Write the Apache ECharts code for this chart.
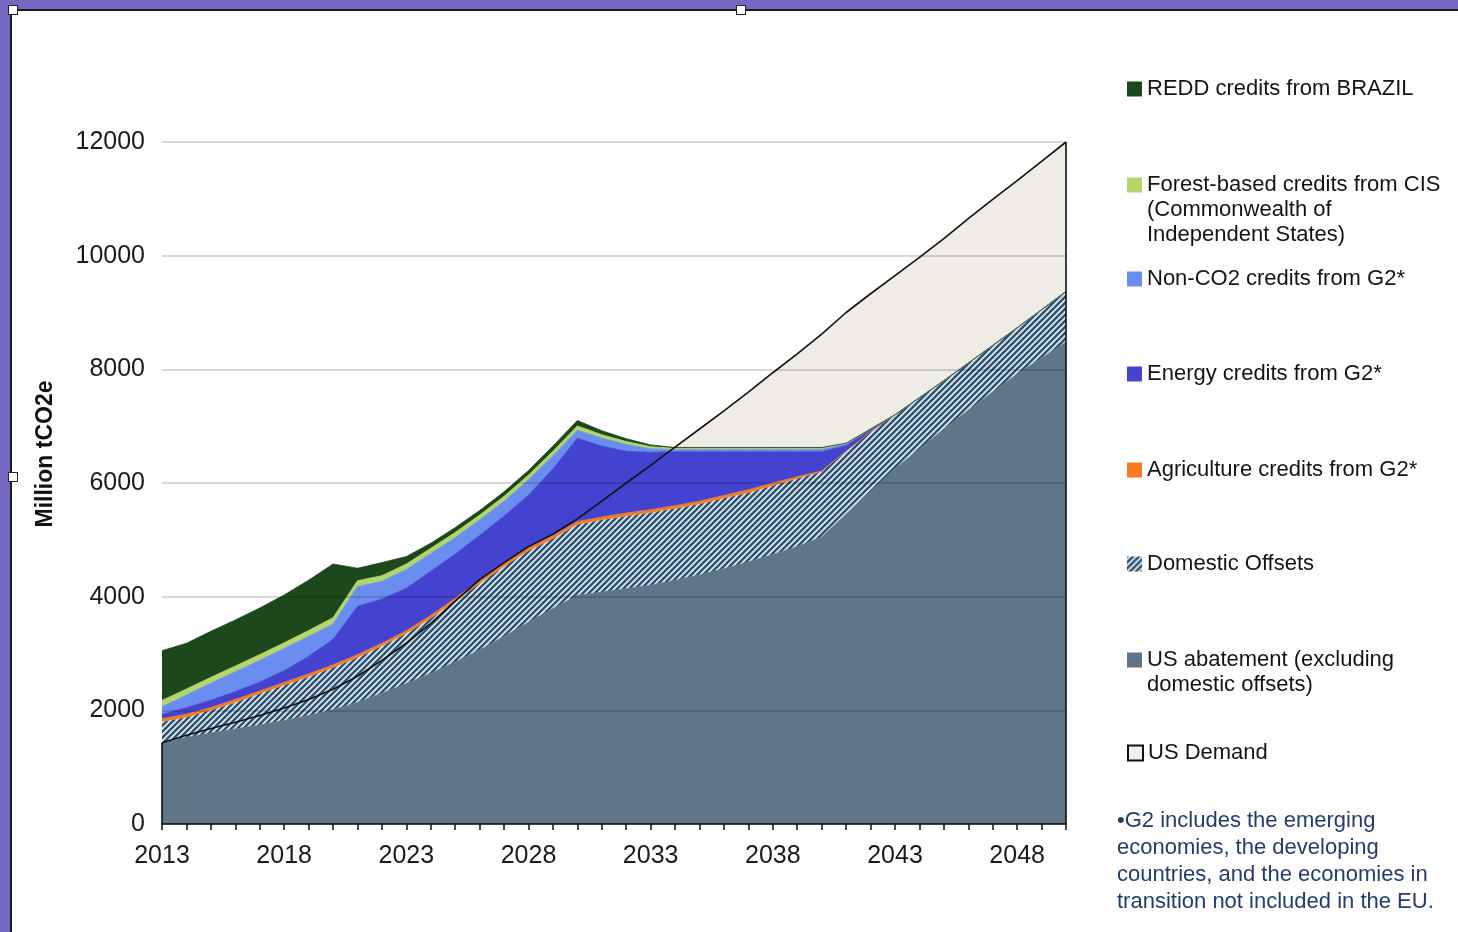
<!DOCTYPE html>
<html>
<head>
<meta charset="utf-8">
<script src="https://cdn.jsdelivr.net/npm/echarts/dist/echarts.min.js"></script>
<style>
html,body{margin:0;padding:0;width:1458px;height:932px;overflow:hidden;background:#7469c2;}
#panel{position:absolute;left:10px;top:9px;width:1448px;height:923px;background:#fff;border-top:2px solid #1a1a1a;border-left:2px solid #1a1a1a;box-sizing:border-box;}
.h{position:absolute;width:10px;height:10px;background:#fff;border:1px solid #222;box-sizing:border-box;}
#chart{position:absolute;left:0;top:0;width:1458px;height:932px;}
</style>
</head>
<body>
<div id="panel"></div>
<div class="h" style="left:8px;top:5px"></div>
<div class="h" style="left:736px;top:5px"></div>
<div class="h" style="left:8px;top:472px"></div>
<div id="chart"></div>
<script>
// ---- data (Million tCO2e) ----
const years = ['2013','2014','2015','2016','2017','2018','2019','2020','2021','2022','2023','2024','2025','2026','2027','2028','2029','2030','2031','2032','2033','2034','2035','2036','2037','2038','2039','2040','2041','2042','2043','2044','2045','2046','2047','2048','2049','2050'];
const usAbatement = [1430,1520,1600,1670,1740,1820,1910,2010, 2140,2300,2470,2650,2850,3060,3300,3550,3790,4020, 4080,4140,4200,4290,4380,4490,4610,4740,4880,5050, 5450,5850,6250,6600,6950,7280,7600,7920,8200,8480];
const domesticOffsets = [370,360,400,470,550,620,680,740, 790,830,880,970,1070,1170,1230,1260,1230,1250, 1270,1280,1280,1260,1250,1240,1220,1210,1200,1150, 1110,1050,950,900,850,830,820,810,850,890];
const agriculture = [50,50,50,50,50,50,50,50, 50,50,50,50,50,50,50,50,50,50, 50,50,50,50,50,50,50,50,30,10, 0,0,0,0,0,0,0,0,0,0];
const energy = [80,120,130,140,160,210,310,450, 850,780,750,780,780,800,840,930,1180,1470, 1250,1090,1010,950,870,770,670,550,440,340, 100,30,0,0,0,0,0,0,0,0];
const nonCO2 = [135,220,300,350,380,390,350,270, 350,310,330,310,290,270,260,270,230,140, 140,120,60,40,40,40,40,40,40,40, 30,20,0,0,0,0,0,0,0,0];
const forest = [110,105,100,100,100,100,105,110, 100,100,95,90,90,85,85,80,80,75, 60,50,40,20,20,20,20,20,20,20, 10,0,0,0,0,0,0,0,0,0];
const redd = [875,805,810,810,820,840,885,945, 220,230,130,90,85,80,80,80,90,95, 70,50,30,15,15,15,15,15,15,15, 0,0,0,0,0,0,0,0,0,0];
const usDemand = [1430,1560,1680,1790,1910,2040,2190,2370, 2600,2880,3180,3530,3920,4300,4600,4880,5100,5370, 5680,6000,6310,6630,6950,7270,7600,7940,8270,8620, 9000,9330,9650,9970,10300,10650,10990,11320,11660,12000];
const yTicks = {min:0, max:12000, step:2000};
const footnote = ['\u2022G2 includes the emerging','economies, the developing','countries, and the economies in','transition not included in the EU.'];

const N_ABATE = 'US abatement (excluding domestic offsets)';
const N_DOM = 'Domestic Offsets';
const N_AG = 'Agriculture credits from G2*';
const N_EN = 'Energy credits from G2*';
const N_NON = 'Non-CO2 credits from G2*';
const N_FOR = 'Forest-based credits from CIS (Commonwealth of Independent States)';
const N_REDD = 'REDD credits from BRAZIL';
const N_DEM = 'US Demand';
const legendLines = {};
legendLines[N_ABATE] = ['US abatement (excluding','domestic offsets)'];
legendLines[N_FOR] = ['Forest-based credits from CIS','(Commonwealth of','Independent States)'];

// ---- hatch pattern ----
function hatchCanvas(){
  const s = 6;
  const c = document.createElement('canvas'); c.width = s; c.height = s;
  const g = c.getContext('2d');
  g.fillStyle = '#e2e7e8'; g.fillRect(0,0,s,s);
  g.strokeStyle = '#2a5375'; g.lineWidth = 2.4;
  g.beginPath();
  g.moveTo(-1, s+1); g.lineTo(s+1, -1);
  g.moveTo(-s/2-1, s/2+1); g.lineTo(s/2+1, -s/2-1);
  g.moveTo(s/2-1, 1.5*s+1); g.lineTo(1.5*s+1, s/2-1);
  g.stroke();
  return c;
}
const hatch = {image: hatchCanvas(), repeat: 'repeat'};

const colors = {};
colors[N_ABATE] = '#607588';
colors[N_DOM] = hatch;
colors[N_AG] = '#f47a24';
colors[N_EN] = '#4343d0';
colors[N_NON] = '#6a8ef0';
colors[N_FOR] = '#b3d66a';
colors[N_REDD] = '#1c481c';

const stackDefs = [[N_ABATE, usAbatement],[N_DOM, domesticOffsets],[N_AG, agriculture],[N_EN, energy],[N_NON, nonCO2],[N_FOR, forest],[N_REDD, redd]];

const series = [];
series.push({
  name: N_DEM, type: 'line', data: usDemand, symbol: 'none', z: 1, silent: true,
  lineStyle: {width: 0}, itemStyle: {color: '#efebe5'}, areaStyle: {color: '#efebe5', opacity: 1}
});
stackDefs.forEach(function(d){
  const col = colors[d[0]];
  series.push({
    name: d[0], type: 'line', stack: 'supply', data: d[1], symbol: 'none', z: 2, silent: true,
    itemStyle: {color: col},
    lineStyle: {width: d[0] === N_DOM ? 0 : 0.8, color: col},
    areaStyle: {color: col, opacity: 1}
  });
});
const last = years.length - 1;
series.push({
  name: N_DEM, type: 'line', data: usDemand, symbol: 'none', z: 4, silent: true,
  lineStyle: {width: 1.6, color: '#111'}, itemStyle: {color: '#111'},
  markLine: {
    silent: true, symbol: ['none','none'], label: {show: false}, animation: false,
    lineStyle: {type: 'solid', color: '#111', width: 1.6},
    data: [
      [{coord: [years[0], 0]}, {coord: [years[0], usDemand[0]]}],
      [{coord: [years[last], 0]}, {coord: [years[last], usDemand[last]]}]
    ]
  }
});

const FONT = '"Liberation Sans", Arial, sans-serif';
// multi-line legend entries: blank lines are prepended so the icon sits on the first line
function legend(name, centerY, extra){
  const lh = 25;
  const lines = legendLines[name] || [name];
  const pad = lines.length - 1;
  const total = lines.length + pad;
  const text = new Array(pad + 1).join('\n') + lines.join('\n');
  return {
    show: true, orient: 'vertical', left: 1127, top: centerY - total * lh / 2, padding: 0,
    itemWidth: 15, itemHeight: 15, itemGap: 0, icon: 'rect', selectedMode: false,
    data: [Object.assign({name: name}, extra || {})],
    formatter: function(){ return text; },
    textStyle: {fontSize: 22, color: '#141414', fontFamily: FONT, lineHeight: lh}
  };
}

const chart = echarts.init(document.getElementById('chart'), null, {renderer: 'canvas'});
chart.setOption({
  animation: false,
  backgroundColor: 'transparent',
  grid: {left: 162, top: 142, width: 904, height: 682, containLabel: false},
  xAxis: {
    type: 'category', data: years, boundaryGap: false, z: 5,
    axisLine: {show: true, lineStyle: {color: '#111', width: 1.5}},
    axisTick: {show: true, interval: 0, length: 6, lineStyle: {color: '#111', width: 1.5}},
    axisLabel: {interval: 4, fontSize: 25, color: '#1a1a1a', margin: 20, fontFamily: FONT},
    splitLine: {show: false}
  },
  yAxis: {
    type: 'value', min: yTicks.min, max: yTicks.max, interval: yTicks.step, z: 3,
    axisLine: {show: false}, axisTick: {show: false},
    axisLabel: {fontSize: 25, color: '#1a1a1a', margin: 17, fontFamily: FONT, formatter: function(v){ return String(v); }},
    splitLine: {show: true, lineStyle: {color: 'rgba(0,0,0,0.2)', width: 1.5}}
  },
  legend: [
    legend(N_REDD, 89),
    legend(N_FOR, 185),
    legend(N_NON, 279),
    legend(N_EN, 374),
    legend(N_AG, 470),
    legend(N_DOM, 564, {itemStyle: {color: hatch}}),
    legend(N_ABATE, 660),
    legend(N_DEM, 753, {itemStyle: {color: '#f2eee8', borderColor: '#111', borderWidth: 2}})
  ],
  graphic: [
    {type: 'text', x: 46, y: 454, rotation: Math.PI/2, silent: true,
     style: {text: 'Million tCO2e', font: 'bold 23px ' + FONT, fill: '#111', align: 'center', verticalAlign: 'middle'}},
    {type: 'text', left: 1117, top: 807, silent: true,
     style: {text: footnote.join('\n'), font: '22px ' + FONT, fill: '#243c6c', lineHeight: 27}}
  ],
  series: series
});
</script>
</body>
</html>
